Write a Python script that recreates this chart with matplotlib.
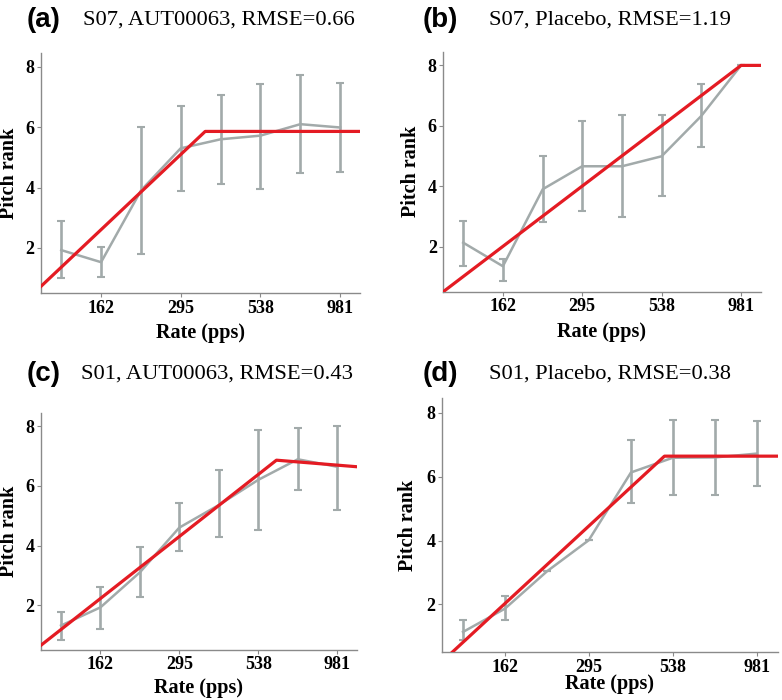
import matplotlib
matplotlib.use('Agg')
import matplotlib.pyplot as plt

# stimulation rates (pps), log spaced
rates = [120, 162, 219, 295, 399, 538, 727, 981]
tick_rates = [162, 295, 538, 981]
x_lo, x_hi = 103, 1140

# (a) S07, AUT00063
a_mean = [1.93, 1.53, 3.91, 5.30, 5.60, 5.72, 6.10, 5.99]
a_lo = [1.00, 1.05, 1.80, 3.88, 4.11, 3.97, 4.47, 4.50]
a_hi = [2.89, 2.02, 6.02, 6.71, 7.07, 7.43, 7.73, 7.47]
a_fit_rate = [103, 355, 1140]
a_fit_rank = [0.73, 5.86, 5.86]

# (b) S07, Placebo
b_mean = [2.13, 1.35, 3.90, 4.66, 4.66, 4.99, 6.33, 8.00]
b_lo = [1.37, 0.86, 2.80, 3.18, 2.97, 3.66, 5.29, 8.00]
b_hi = [2.86, 1.60, 5.01, 6.15, 6.36, 6.35, 7.40, 8.00]
b_fit_rate = [103, 981, 1140]
b_fit_rank = [0.50, 8.00, 8.00]

# (c) S01, AUT00063
c_mean = [1.32, 1.93, 3.11, 4.60, 5.36, 6.20, 6.89, 6.64]
c_lo = [0.85, 1.22, 2.29, 3.82, 4.28, 4.53, 5.85, 5.18]
c_hi = [1.77, 2.61, 3.94, 5.42, 6.53, 7.87, 7.95, 8.01]
c_fit_rate = [103, 618, 1140]
c_fit_rank = [0.66, 6.86, 6.64]

# (d) S01, Placebo
d_mean = [1.14, 1.87, 3.04, 4.01, 6.13, 6.59, 6.60, 6.72]
d_lo = [0.88, 1.51, 3.04, 4.01, 5.17, 5.41, 5.41, 5.71]
d_hi = [1.51, 2.26, 3.04, 4.01, 7.14, 7.77, 7.77, 7.74]
d_fit_rate = [103, 507, 1140]
d_fit_rank = [0.20, 6.64, 6.64]

letters = ['(a)', '(b)', '(c)', '(d)']
titles = ['S07, AUT00063, RMSE=0.66', 'S07, Placebo, RMSE=1.19',
          'S01, AUT00063, RMSE=0.43', 'S01, Placebo, RMSE=0.38']

panels = [(a_mean, a_lo, a_hi, a_fit_rate, a_fit_rank),
          (b_mean, b_lo, b_hi, b_fit_rate, b_fit_rank),
          (c_mean, c_lo, c_hi, c_fit_rate, c_fit_rank),
          (d_mean, d_lo, d_hi, d_fit_rate, d_fit_rank)]

boxes = [[0.0524, 0.581, 0.408, 0.343],
         [0.5665, 0.583, 0.4065, 0.343],
         [0.0524, 0.0714, 0.404, 0.339],
         [0.5648, 0.068, 0.4297, 0.363]]
letter_pos = [(0.034, 0.972), (0.540, 0.972), (0.034, 0.466), (0.540, 0.466)]
title_x = [0.106, 0.625, 0.103, 0.625]
xlab_y = [-0.165, -0.165, -0.16, -0.125]

grey = '#a2aaaa'
red = '#e41b23'
spine = '#8a8a8a'
serif = 'Liberation Serif'

fig = plt.figure(figsize=(7.82, 7.0), dpi=100)

for i in range(4):
  mean, lo, hi, fr, fy = panels[i]
  ax = fig.add_axes(boxes[i])
  ax.set_xscale('log')
  yerr = [[m - l for m, l in zip(mean, lo)], [h - m for m, h in zip(mean, hi)]]
  ax.errorbar(rates, mean, yerr=yerr, color=grey, lw=1.8, elinewidth=1.9,
              capsize=3, capthick=1.5, zorder=2)
  ax.plot(fr, fy, color=red, lw=2.3, zorder=3)
  ax.set_xlim(x_lo, x_hi)
  ax.set_ylim(0.5, 8.45)
  ax.set_xticks(tick_rates)
  ax.set_xticklabels([str(t) for t in tick_rates])
  ax.xaxis.set_minor_locator(matplotlib.ticker.NullLocator())
  ax.set_yticks([2, 4, 6, 8])
  for s in ['top', 'right']:
    ax.spines[s].set_visible(False)
  for s in ['left', 'bottom']:
    ax.spines[s].set_color(spine)
    ax.spines[s].set_linewidth(1.0)
  ax.tick_params(length=3, width=0.8, color=spine, pad=1.5)
  for lab in ax.get_xticklabels() + ax.get_yticklabels():
    lab.set_fontfamily(serif); lab.set_fontweight('bold'); lab.set_fontsize(13)
  ax.set_xlabel('Rate (pps)', family=serif, weight='bold', fontsize=14.5, va='center')
  ax.xaxis.set_label_coords(0.5, xlab_y[i])
  ax.set_ylabel('Pitch rank', family=serif, weight='bold', fontsize=14.5, va='center')
  ax.yaxis.set_label_coords(-0.1, 0.5)
  lx, ly = letter_pos[i]
  fig.text(lx, ly, letters[i], family='Liberation Sans', weight='bold', fontsize=20, va='center')
  fig.text(title_x[i], ly, titles[i], family=serif, fontsize=16.2, va='center')

fig.savefig('out.png', dpi=100)
